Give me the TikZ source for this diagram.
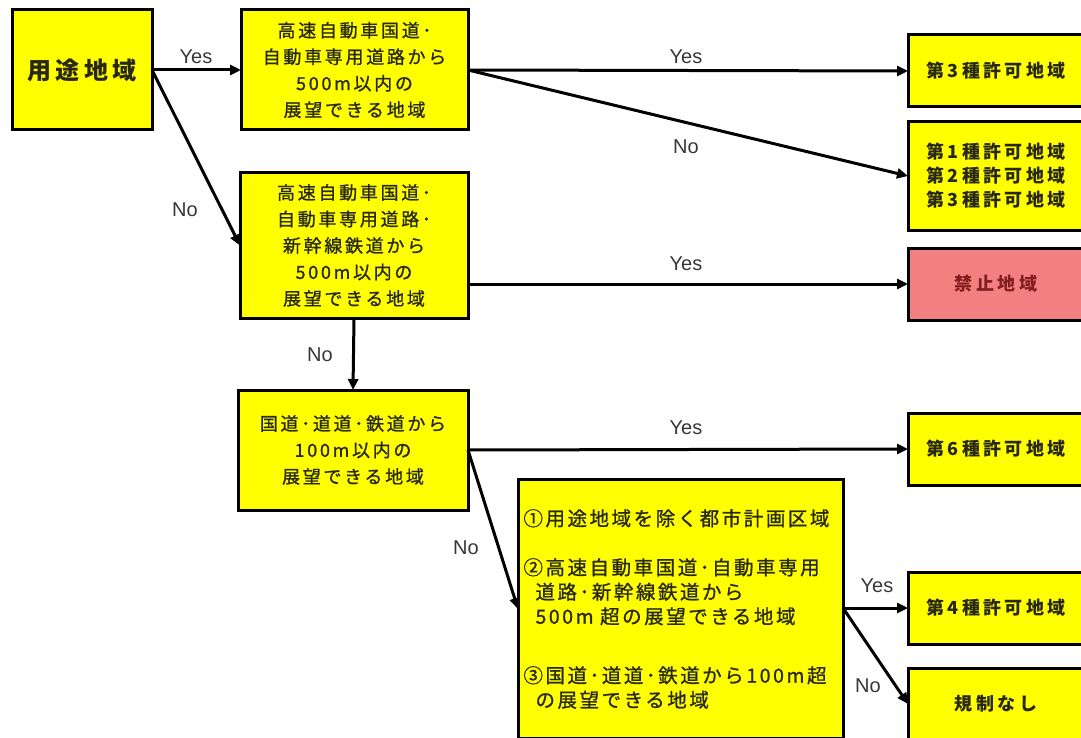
\documentclass[tikz,border=0pt]{standalone}
\usepackage{fontspec}
\setmainfont{Liberation Sans}
\newfontfamily\jpa[LetterSpace=15,FakeBold=1]{Noto Sans CJK JP}
\newfontfamily\jpb[LetterSpace=13,FakeBold=1]{Noto Sans CJK JP}
\newfontfamily\jpc[LetterSpace=19]{Noto Sans CJK JP}
\newfontfamily\jpd[LetterSpace=18]{Noto Sans CJK JP}
\usetikzlibrary{arrows.meta}
\definecolor{boxyellow}{RGB}{255,255,0}
\definecolor{boxred}{RGB}{242,128,128}
\definecolor{redtext}{RGB}{130,30,30}
\definecolor{labelgray}{RGB}{55,55,55}
\definecolor{jptext}{RGB}{40,40,20}
\begin{document}
\begin{tikzpicture}[x=1pt,y=-1pt,
  box/.style={draw=black, line width=3pt, fill=boxyellow, inner sep=0pt, outer sep=0pt, align=center, text=jptext},
  qbox/.style={box, font=\jpa\fontsize{18}{26.5}\selectfont},
  rbox/.style={box, minimum width=176pt, minimum height=72pt, font=\jpc\bfseries\fontsize{18}{24}\selectfont},
  flow/.style={line width=3pt, -{Triangle[length=11pt,width=10pt]}},
  lbl/.style={font=\fontsize{20}{24}\selectfont, text=labelgray, inner sep=0pt}]
\useasboundingbox (0,0) rectangle (1081,738);
\clip (0,0) rectangle (1081,738);
\fill[white] (0,0) rectangle (1081,738);

\node[box, minimum width=140pt, minimum height=120pt, font=\jpd\bfseries\fontsize{24}{28}\selectfont] (A) at (82,70) {用途地域};
\node[qbox, minimum width=227pt, minimum height=120pt] (B) at (354.5,70) {高速自動車国道･\\自動車専用道路から\\500m以内の\\展望できる地域};
\node[qbox, minimum width=228pt, minimum height=145pt] (E) at (354,245.5) {高速自動車国道･\\自動車専用道路･\\新幹線鉄道から\\500m以内の\\展望できる地域};
\node[qbox, minimum width=230pt, minimum height=120pt] (G) at (353,450) {国道･道道･鉄道から\\100m以内の\\展望できる地域};
\node[box, minimum width=325pt, minimum height=259pt, text width=314pt, align=left, font=\jpb\fontsize{19.5}{24.5}\selectfont] (I) at (680.5,609) {①用途地域を除く都市計画区域\\[24.5pt]②高速自動車国道･自動車専用\\\hspace*{12pt}道路･新幹線鉄道から\\\hspace*{12pt}500m 超の展望できる地域\\[34.5pt]③国道･道道･鉄道から100m超\\\hspace*{12pt}の展望できる地域};

\node[rbox] (C) at (996,71) {第3種許可地域};
\node[rbox, minimum height=108pt] (D) at (996,176) {第1種許可地域\\第2種許可地域\\第3種許可地域};
\node[rbox, fill=boxred, text=redtext] (F) at (996,284) {禁止地域};
\node[rbox] (H) at (996,449) {第6種許可地域};
\node[rbox] (J) at (996,608) {第4種許可地域};
\node[rbox] (K) at (996,704) {規制なし};

\draw[flow] (A.east) -- (B.west);
\draw[flow] (A.east) -- (E.west);
\draw[flow] (B.east) -- (C.west);
\draw[flow] (B.east) -- (D.west);
\draw[flow] (E.east |- F.west) -- (F.west);
\draw[flow] (E.south) -- (G.north);
\draw[flow] (G.east) -- (H.west);
\draw[flow] (G.east) -- (I.west);
\draw[flow] (I.east |- J.west) -- (J.west);
\draw[flow] (I.east |- J.west) -- (K.west);

\node[lbl] (l1) at (196,57) {Yes};
\node[lbl] (l2) at (185,210) {No};
\node[lbl] (l3) at (686,57) {Yes};
\node[lbl] (l4) at (686,147) {No};
\node[lbl] (l5) at (686,264) {Yes};
\node[lbl] (l6) at (320,355) {No};
\node[lbl] (l7) at (686,428) {Yes};
\node[lbl] (l8) at (466,548) {No};
\node[lbl] (l9) at (877,586) {Yes};
\node[lbl] (l10) at (868,686) {No};
\end{tikzpicture}
\end{document}
